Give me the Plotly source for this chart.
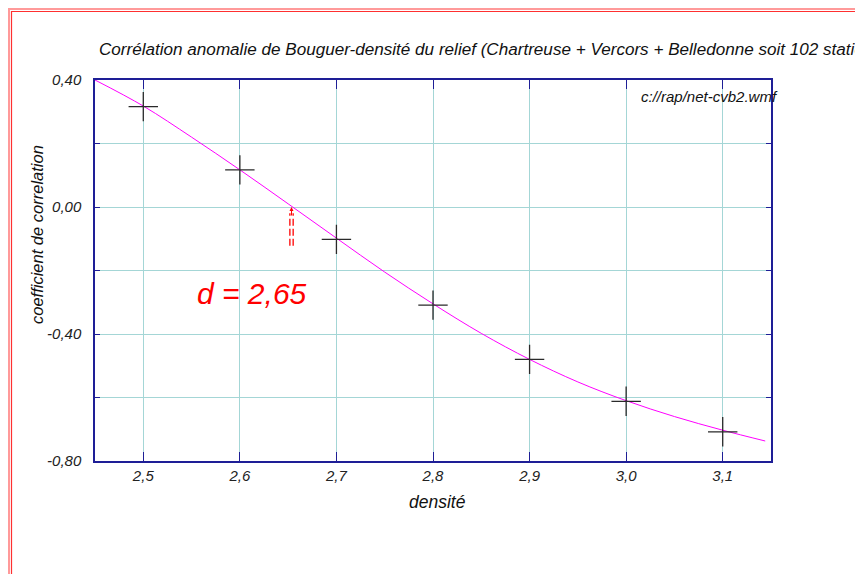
import plotly.graph_objects as go

densite = [2.5, 2.6, 2.7, 2.8, 2.9, 3.0, 3.1]
correlation = [0.316, 0.117, -0.102, -0.309, -0.480, -0.612, -0.708]

# courbe d'ajustement
fit_x = [2.45, 2.5, 2.55, 2.6, 2.65, 2.7, 2.75, 2.8, 2.85, 2.9, 2.95, 3.0, 3.05, 3.1, 3.144]
fit_y = [0.400, 0.318, 0.220, 0.117, 0.010, -0.098, -0.205, -0.305, -0.398, -0.480, -0.551, -0.610, -0.660, -0.703, -0.737]

x_ticks = [2.5, 2.6, 2.7, 2.8, 2.9, 3.0, 3.1]
x_labels = ["2,5", "2,6", "2,7", "2,8", "2,9", "3,0", "3,1"]
y_ticks = [-0.8, -0.6, -0.4, -0.2, 0.0, 0.2, 0.4]
y_labels = ["-0,80", "", "-0,40", "", "0,00", "", "0,40"]

d_zero = 2.6535

# la page html decale la figure de 8 px (marge du body)
OFF = 8
W, H = 863 - OFF, 574 - OFF
# cadre du trace en pixels de l'ecran : 95..771 x 80..461
L, T = 95 - OFF, 80 - OFF
R, B = W - (771 - OFF), H - (461 - OFF)
FONT = "Arial, Liberation Sans, sans-serif"
FRAME = "#1e1e96"
GRID = "#a4d6d6"


def px_x(p):
    return (p - OFF - L) / (W - L - R)


def px_y(p):
    return (H - B - (p - OFF)) / (H - T - B)


fig = go.Figure()
fig.add_trace(go.Scatter(x=fit_x, y=fit_y, mode="lines", line=dict(color="#ff00ff", width=1, shape="spline"),
                         showlegend=False, hoverinfo="skip"))
fig.add_trace(go.Scatter(x=densite, y=correlation, mode="markers",
                         marker=dict(symbol="cross-thin", size=21, line=dict(color="#2a2a2a", width=1.3)),
                         showlegend=False))

axis_common = dict(showline=True, linecolor=FRAME, linewidth=1.5, mirror="allticks", ticks="inside",
                   tickcolor=FRAME, showgrid=True, gridcolor=GRID, gridwidth=1, zeroline=False,
                   tickfont=dict(family=FONT, size=15, color="#222222", style="italic"))

fig.update_xaxes(range=[2.45, 3.15], tickvals=x_ticks, ticktext=x_labels, ticklen=9,
                 ticklabelstandoff=0, **axis_common)
fig.update_yaxes(range=[-0.8, 0.4], tickvals=y_ticks, ticktext=y_labels, ticklen=5,
                 ticklabelstandoff=9, **axis_common)

shapes = [
    dict(type="rect", xref="paper", yref="paper", x0=px_x(9), x1=px_x(900), y0=px_y(620), y1=px_y(9),
         line=dict(color="#ff9a9a", width=2)),
    dict(type="rect", xref="paper", yref="paper", x0=px_x(11.5), x1=px_x(862), y0=px_y(620), y1=px_y(11.5),
         line=dict(color="#ff3030", width=1.2)),
    dict(type="line", xref="x", yref="y", x0=d_zero - 0.0017, x1=d_zero - 0.0017, y0=-0.122, y1=-0.02,
         line=dict(color="red", width=1.3, dash="7px,3px")),
    dict(type="line", xref="x", yref="y", x0=d_zero + 0.0017, x1=d_zero + 0.0017, y0=-0.122, y1=-0.02,
         line=dict(color="red", width=1.3, dash="7px,3px")),
]

annotations = [
    dict(text="Corrélation anomalie de Bouguer-densité du relief (Chartreuse + Vercors + Belledonne soit 102 stations)",
         xref="paper", yref="paper", x=px_x(97), y=px_y(50), xanchor="left", yanchor="middle", showarrow=False,
         font=dict(family=FONT, size=17.1, color="#111111", style="italic")),
    dict(text="c://rap/net-cvb2.wmf", xref="paper", yref="paper", x=px_x(639), y=px_y(97),
         xanchor="left", yanchor="middle", showarrow=False,
         font=dict(family=FONT, size=15, color="#111111", style="italic")),
    dict(text="coefficient de correlation", xref="paper", yref="paper", x=px_x(37), y=px_y(235),
         xanchor="center", yanchor="middle", textangle=-90, showarrow=False,
         font=dict(family=FONT, size=16.5, color="#111111", style="italic")),
    dict(text="densité", xref="paper", yref="paper", x=px_x(437), y=px_y(502),
         xanchor="center", yanchor="middle", showarrow=False,
         font=dict(family=FONT, size=17.5, color="#111111", style="italic")),
    dict(text="d = 2,65", xref="x", yref="y", x=2.613, y=-0.271, xanchor="center", yanchor="middle",
         showarrow=False, font=dict(family=FONT, size=30, color="#ff0000", style="italic")),
    dict(text="", xref="x", yref="y", x=d_zero, y=0.0, ax=0, ay=10, showarrow=True,
         arrowhead=2, arrowsize=0.8, arrowwidth=1, arrowcolor="red"),
]

fig.update_layout(width=W, height=H, margin=dict(l=L, r=R, t=T, b=B),
                  plot_bgcolor="white", paper_bgcolor="white",
                  shapes=shapes, annotations=annotations, showlegend=False)

fig.write_html("out.html")
